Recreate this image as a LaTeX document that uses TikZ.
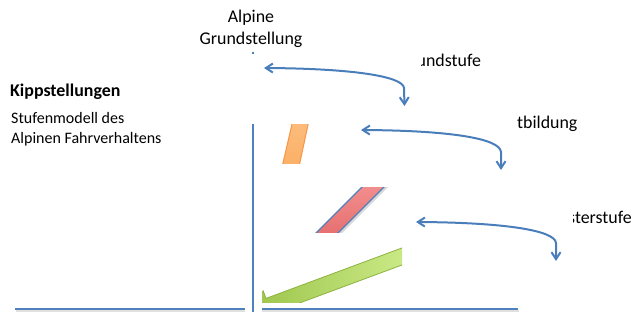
\documentclass[tikz,border=0pt]{standalone}
\usepackage{fontspec}
\setmainfont{Carlito}
\usetikzlibrary{arrows.meta}
\definecolor{axisblue}{HTML}{4F81BD}
\definecolor{arrowblue}{HTML}{4A7EBB}
\definecolor{orangefill}{HTML}{FBAE62}
\definecolor{orangeline}{HTML}{F79646}
\definecolor{redtop}{HTML}{F59393}
\definecolor{redbot}{HTML}{E46B6B}
\definecolor{greenlight}{HTML}{D0EE8E}
\definecolor{greendark}{HTML}{9CC44A}
\definecolor{greenline}{HTML}{8DB33F}
\begin{document}
\begin{tikzpicture}[x=1pt,y=-1pt,
  axisline/.style={draw=axisblue,line width=2pt},
  shadowline/.style={draw=black!12,line width=2pt},
  curvearrow/.style={draw=arrowblue,line width=2pt,
    {Straight Barb[length=7pt,width=9pt,line width=2pt]}-{Straight Barb[length=7pt,width=9pt,line width=2pt]}},
  bigtext/.style={font=\fontsize{17.9}{22}\selectfont,inner sep=0pt},
  smalltext/.style={font=\fontsize{16}{20}\selectfont,inner sep=0pt,align=left},
]
\useasboundingbox (0,0) rectangle (635,322);

% texts
\node[bigtext,anchor=base] (alp) at (251,22) {Alpine};
\node[bigtext,anchor=base] (grs) at (251,44) {Grundstellung};
\node[bigtext,anchor=base west,font=\fontsize{17.9}{22}\selectfont\bfseries] (kip) at (10,96) {Kippstellungen};
\node[smalltext,anchor=base west] (stu) at (11,123) {Stufenmodell des};
\node[smalltext,anchor=base west] (alf) at (11,143) {Alpinen Fahrverhaltens};
\begin{scope}
  \clip (421,40) rectangle (500,80);
  \node[bigtext,anchor=base west] (gst) at (416.5,66) {undstufe};
\end{scope}
\node[bigtext,anchor=base west] (kbi) at (517,128) {tbildung};
\begin{scope}
  \clip (573,195) rectangle (635,235);
  \node[bigtext,anchor=base west] (mst) at (568,223) {sterstufe};
\end{scope}

% orange bar
\begin{scope}
  \clip (270,124) rectangle (320,163);
  \path[draw=orangeline,line width=1pt,top color=orangefill!80!white,bottom color=orangefill]
    (280.9,172) -- (294.1,115) -- (310.1,115) -- (297.9,172) -- cycle;
\end{scope}

% red bar
\begin{scope}
  \clip (300,187) rectangle (400,232);
  \path[fill=black!15] (309,244) -- (374,179) -- (396,179) -- (331,244) -- cycle;
  \path[top color=redtop,bottom color=redbot]
    (307,242) -- (372,177) -- (394,177) -- (329,242) -- cycle;
  \draw[axisblue,line width=1.3pt] (307,242) -- (372,177);
  \draw[axisblue,line width=1.3pt] (329,242) -- (394,177);
\end{scope}

% green arrow
\begin{scope}
  \clip (262,238) rectangle (402,302);
  \path[draw=greenline,line width=0.8pt,left color=greendark,right color=greenlight]
    (418,242) -- (266,298.4) -- (263.2,290.9) -- (249.1,313.2)
    -- (274.4,320.9) -- (271.6,313.4) -- (423.5,257) -- cycle;
\end{scope}

% axes
\draw[shadowline] (16,310.5) -- (245,310.5);
\draw[shadowline] (262,310.5) -- (519,310.5);
\draw[axisline] (15,308.5) -- (245,308.5);
\draw[axisline] (262,308.5) -- (518,308.5);
\draw[axisline] (252.5,124) -- (252.5,312);
\draw[axisline] (252.5,51.5) -- (252.5,54);

% curved arrows
\coordinate (a1l) at (264,68);
\coordinate (a1b) at (404.5,106);
\coordinate (a2l) at (361,130);
\coordinate (a2b) at (501,170);
\coordinate (a3l) at (416,222);
\coordinate (a3b) at (556,261);
\draw[curvearrow] (a1l) .. controls (350,68.5) and (403,76) .. (404,88) -- (a1b);
\draw[curvearrow] (a2l) .. controls (447,130.5) and (500,138) .. (501,152) -- (a2b);
\draw[curvearrow] (a3l) .. controls (502,222.5) and (555,230) .. (556,243) -- (a3b);
\end{tikzpicture}
\end{document}
